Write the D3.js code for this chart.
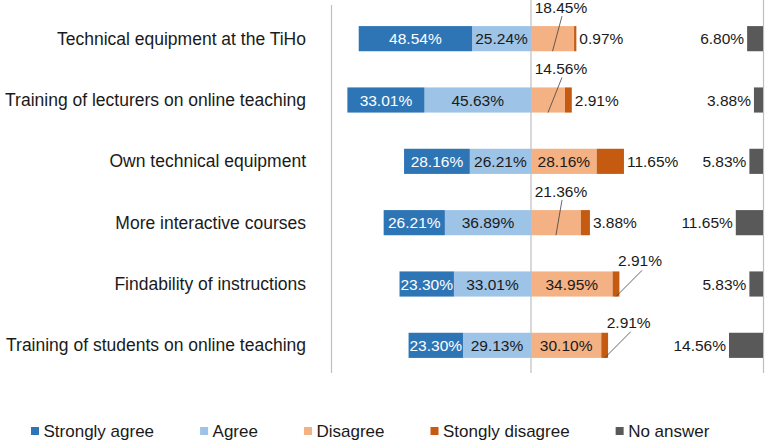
<!DOCTYPE html>
<html lang="en">
<head>
<meta charset="UTF-8">
<title>Diverging bars</title>
<style>
  body { margin: 0; background: #fff; }
  text { font-family: "Liberation Sans", Arial, sans-serif; fill: #1a1a1a; }
</style>
<script src="https://cdn.jsdelivr.net/npm/d3@7"></script>
</head>
<body>
<script>
// Datos
var categories = [
  "Technical equipment at the TiHo",
  "Training of lecturers on online teaching",
  "Own technical equipment",
  "More interactive courses",
  "Findability of instructions",
  "Training of students on online teaching"
];
var stronglyAgree    = [48.54, 33.01, 28.16, 26.21, 23.30, 23.30];
var agree            = [25.24, 45.63, 26.21, 36.89, 33.01, 29.13];
var disagree         = [18.45, 14.56, 28.16, 21.36, 34.95, 30.10];
var stronglyDisagree = [0.97, 2.91, 11.65, 3.88, 2.91, 2.91];
var noAnswer         = [6.80, 3.88, 5.83, 11.65, 5.83, 14.56];
var legendLabels = ["Strongly agree", "Agree", "Disagree", "Stongly disagree", "No answer"];
var colors = ["#2e75b6", "#9dc3e6", "#f4b183", "#c55a11", "#595959"];

var W = 767, H = 443;
var svg = d3.select("body").append("svg").attr("width", W).attr("height", H);

var center = 531, unit = 2.335;
var x = d3.scaleLinear().domain([-100, 100]).range([center - 100 * unit, center + 100 * unit]);
var xn = d3.scaleLinear().domain([0, 100]).range([763, 763 - 100 * unit]);
var y = d3.scaleBand().domain(categories).range([8, 376]).paddingInner(0.59).paddingOuter(0.295);
var fmt = function(v) { return d3.format(".2f")(v) + "%"; };

// lineas verticales
svg.append("line").attr("x1", 331.5).attr("x2", 331.5).attr("y1", 5).attr("y2", 373)
  .attr("stroke", "#bfbfbf").attr("stroke-width", 1.2);
svg.append("line").attr("x1", x(0)).attr("x2", x(0)).attr("y1", 0).attr("y2", 373)
  .attr("stroke", "#bfbfbf").attr("stroke-width", 1.2);
svg.append("line").attr("x1", 763.5).attr("x2", 763.5).attr("y1", 0).attr("y2", 373)
  .attr("stroke", "#bfbfbf").attr("stroke-width", 1.2);

// filas
var rows = categories.map(function(c, i) {
  return { cat: c, sa: stronglyAgree[i], a: agree[i], d: disagree[i], sd: stronglyDisagree[i], na: noAnswer[i] };
});

var g = svg.selectAll(".row").data(rows).enter().append("g").attr("class", "row");

// categoria
g.append("text")
  .attr("x", 306).attr("y", function(d) { return y(d.cat) + y.bandwidth() / 2; })
  .attr("dy", "0.35em").attr("text-anchor", "end").style("font-size", "17.5px")
  .text(function(d) { return d.cat; });

function seg(sel, x0f, x1f, color) {
  sel.append("rect")
    .attr("x", function(d) { return Math.min(x0f(d), x1f(d)); })
    .attr("y", function(d) { return y(d.cat); })
    .attr("width", function(d) { return Math.abs(x1f(d) - x0f(d)); })
    .attr("height", y.bandwidth())
    .attr("fill", color);
}
seg(g, function(d) { return x(-d.a); }, function(d) { return x(0); }, colors[1]);
seg(g, function(d) { return x(-d.a - d.sa); }, function(d) { return x(-d.a); }, colors[0]);
seg(g, function(d) { return x(0); }, function(d) { return x(d.d); }, colors[2]);
seg(g, function(d) { return x(d.d); }, function(d) { return x(d.d + d.sd); }, colors[3]);
seg(g, function(d) { return xn(d.na); }, function(d) { return xn(0); }, colors[4]);

var fs = "15.5px";
var mid = function(d) { return y(d.cat) + y.bandwidth() / 2; };

// etiquetas dentro
g.append("text").attr("x", function(d) { return x(-d.a - d.sa / 2); }).attr("y", mid)
  .attr("dy", "0.36em").attr("text-anchor", "middle").style("font-size", fs).style("fill", "#fff")
  .text(function(d) { return fmt(d.sa); });
g.append("text").attr("x", function(d) { return x(-d.a / 2); }).attr("y", mid)
  .attr("dy", "0.36em").attr("text-anchor", "middle").style("font-size", fs)
  .text(function(d) { return fmt(d.a); });

// Disagree: dentro o arriba con linea guia
var inside = function(d) { return d.d >= 25; };
g.filter(inside).append("text").attr("x", function(d) { return x(d.d / 2); }).attr("y", mid)
  .attr("dy", "0.36em").attr("text-anchor", "middle").style("font-size", fs)
  .text(function(d) { return fmt(d.d); });
var gOut = g.filter(function(d) { return !inside(d); });
gOut.append("text").attr("x", x(0) + 30).attr("y", function(d) { return y(d.cat) - 13; })
  .attr("text-anchor", "middle").style("font-size", fs)
  .text(function(d) { return fmt(d.d); });
gOut.append("line")
  .attr("x1", x(0) + 31).attr("y1", function(d) { return y(d.cat) - 10; })
  .attr("x2", function(d) { return x(d.d / 2); }).attr("y2", function(d) { return y(d.cat) + y.bandwidth(); })
  .attr("stroke", "#404040").attr("stroke-width", 0.8);

// Strongly disagree
var sdAbove = function(d) { return inside(d) && d.sd < 5; };
g.filter(function(d) { return !sdAbove(d); }).append("text")
  .attr("x", function(d) { return x(d.d + d.sd) + 3; }).attr("y", mid)
  .attr("dy", "0.36em").style("font-size", fs)
  .text(function(d) { return fmt(d.sd); });
var gSd = g.filter(sdAbove);
gSd.append("text").attr("x", function(d) { return x(d.d + d.sd / 2) + 24; })
  .attr("y", function(d) { return y(d.cat) - 5; })
  .attr("text-anchor", "middle").style("font-size", fs)
  .text(function(d) { return fmt(d.sd); });
gSd.append("line")
  .attr("x1", function(d) { return x(d.d + d.sd / 2) + 26; }).attr("y1", function(d) { return y(d.cat) - 1; })
  .attr("x2", function(d) { return x(d.d + d.sd / 2); }).attr("y2", function(d) { return y(d.cat) + y.bandwidth(); })
  .attr("stroke", "#404040").attr("stroke-width", 0.8);

// No answer
g.append("text").attr("x", function(d) { return xn(d.na) - 3; }).attr("y", mid)
  .attr("dy", "0.36em").attr("text-anchor", "end").style("font-size", fs)
  .text(function(d) { return fmt(d.na); });

// Leyenda
var lx = 31;
legendLabels.forEach(function(l, i) {
  svg.append("rect").attr("x", lx).attr("y", 427).attr("width", 8).attr("height", 8).attr("fill", colors[i]);
  var t = svg.append("text").attr("x", lx + 12.5).attr("y", 431).attr("dy", "0.36em")
    .style("font-size", "17px").text(l);
  lx += 12.5 + t.node().getComputedTextLength() + 46;
});
</script>
</body>
</html>
